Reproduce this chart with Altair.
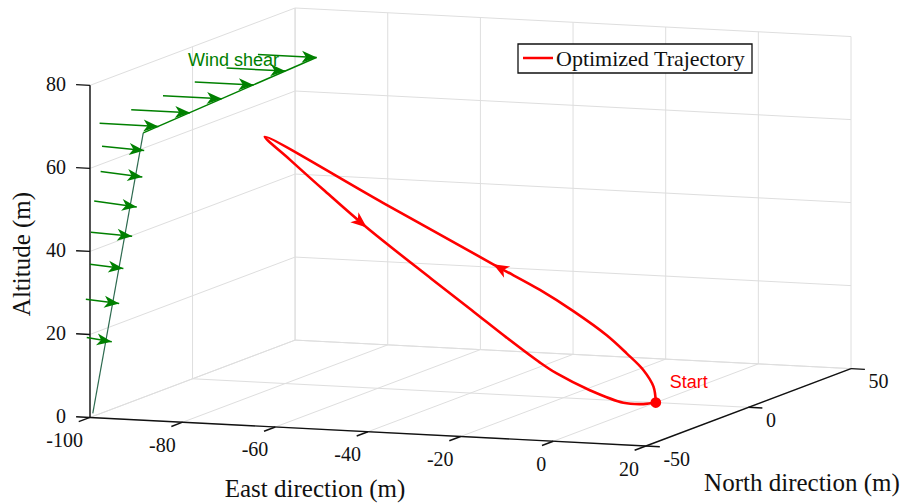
import math
import altair as alt
import pandas as pd

# ---------------------------------------------------------------- axes
X_LIM = [-100, 20]   # East direction (m)
Y_LIM = [-50, 50]    # North direction (m)
Z_LIM = [0, 80]      # Altitude (m)
x_ticks = [-100, -80, -60, -40, -20, 0, 20]
y_ticks = [-50, 0, 50]
z_ticks = [0, 20, 40, 60, 80]

# ---------------------------------------------------------------- trajectory (m)
traj_east = [0.0, -0.5, -2.7, -6.3, -10.6, -17.8, -25.0, -35.1, -58.8, -84.4,
             -79.0, -71.8, -62.4, -48.4, -39.4, -32.2, -25.0, -20.5, -12.7,
             -5.0, -1.2, 0.0]
traj_north = [0.0, 0.0, 0.0, 0.0, 0.0, 0.0, 0.0, 0.0, 0.0, 0.0,
              0.0, 0.0, 0.0, 0.0, 0.0, 0.0, 0.0, -2.0, -3.5,
              -4.5, -3.4, 0.0]
traj_alt = [0.0, 3.8, 7.7, 11.5, 15.6, 21.0, 25.7, 31.3, 44.7, 59.2,
            54.0, 47.2, 38.6, 27.0, 19.7, 13.8, 8.2, 6.2, 2.9,
            0.5, 0.2, 0.0]
traj_arrow_idx = [7, 12]
start_point = [0.0, 0.0, 0.0]
start_label_pos = [3.0, 0.0, 5.0]

# ---------------------------------------------------------------- wind shear arrows
wind_tail_east = [-100.7, -100.9, -100.0, -99.8, -99.1, -97.7, -97.4,
                  -101.2, -101.2, -101.2, -101.2, -101.2, -101.2]
wind_tail_north = [-50, -50, -50, -50, -50, -50, -50,
                   -42.6, -27.2, -11.7, 3.8, 19.3, 34.6]
wind_tail_alt = [19.2, 28.4, 36.9, 44.6, 52.2, 59.4, 65.5,
                 69.4, 69.8, 70.3, 70.7, 71.2, 71.6]
wind_tip_east = [-95.3, -93.7, -92.8, -90.9, -89.9, -88.7, -88.3,
                 -88.5, -88.5, -88.5, -88.5, -88.5, -88.5]
wind_tip_north = [-50, -50, -50, -50, -50, -50, -50,
                  -42.6, -27.2, -11.7, 3.8, 19.3, 34.6]
wind_tip_alt = [18.5, 27.8, 36.3, 44.2, 51.3, 58.6, 65.0,
                69.4, 69.8, 70.3, 70.7, 71.2, 71.6]
profile_east = [-99.4, -88.5, -88.6]
profile_north = [-50, -50, 34.6]
profile_alt = [1.0, 69.2, 71.6]
wind_label_pos = [-101.0, 0.0, 76.5]

# ---------------------------------------------------------------- view
AZ, EL, BOX_Z = 20.25, 8.0, 0.566
W, H = 761, 438
PAD = {"left": 90, "top": 8, "right": 62, "bottom": 58}
ca, sa = math.cos(math.radians(AZ)), math.sin(math.radians(AZ))
ce, se = math.cos(math.radians(EL)), math.sin(math.radians(EL))


def project(X, Y, Z):
    xn = (X - X_LIM[0]) / (X_LIM[1] - X_LIM[0])
    yn = (Y - Y_LIM[0]) / (Y_LIM[1] - Y_LIM[0])
    zn = (Z - Z_LIM[0]) / (Z_LIM[1] - Z_LIM[0]) * BOX_Z
    u = ca * xn + sa * yn
    v = -sa * se * xn + ca * se * yn + ce * zn
    return u, v


XS = alt.Scale(domain=[0.0, ca + sa], nice=False, zero=False)
YS = alt.Scale(domain=[-sa * se, ca * se + ce * BOX_Z], nice=False, zero=False)


def xenc():
    return alt.X("u:Q", scale=XS, axis=None)


def yenc():
    return alt.Y("v:Q", scale=YS, axis=None)


def seg_chart(segs, **mark_kw):
    rows = []
    for p, q in segs:
        u, v = project(*p)
        u2, v2 = project(*q)
        rows.append({"u": u, "v": v, "u2": u2, "v2": v2})
    return alt.Chart(pd.DataFrame(rows)).mark_rule(**mark_kw).encode(
        x=xenc(), y=yenc(), x2="u2:Q", y2="v2:Q")


def heading(p, q):
    u1, v1 = project(*p)
    u2, v2 = project(*q)
    return math.degrees(math.atan2(u2 - u1, v2 - v1)) % 360


# stealth arrowhead, tip at the symbol origin, pointing up before rotation
ARROW = "M0,0 L0.8,2 L0,1.45 L-0.8,2 Z"

# ---------------------------------------------------------------- grid on the three back planes
grid = []
for x in x_ticks:
    grid.append(((x, Y_LIM[0], 0), (x, Y_LIM[1], 0)))
    grid.append(((x, Y_LIM[1], Z_LIM[0]), (x, Y_LIM[1], Z_LIM[1])))
for y in y_ticks:
    grid.append(((X_LIM[0], y, 0), (X_LIM[1], y, 0)))
    grid.append(((X_LIM[0], y, Z_LIM[0]), (X_LIM[0], y, Z_LIM[1])))
for z in z_ticks:
    grid.append(((X_LIM[0], Y_LIM[1], z), (X_LIM[1], Y_LIM[1], z)))
    grid.append(((X_LIM[0], Y_LIM[0], z), (X_LIM[0], Y_LIM[1], z)))
grid_layer = seg_chart(grid, color="#dedede", strokeWidth=1)

# ---------------------------------------------------------------- axis lines and ticks
axis_segs = [((X_LIM[0], Y_LIM[0], Z_LIM[0]), (X_LIM[0], Y_LIM[0], Z_LIM[1])),
             ((X_LIM[0], Y_LIM[0], Z_LIM[0]), (X_LIM[1], Y_LIM[0], Z_LIM[0])),
             ((X_LIM[1], Y_LIM[0], Z_LIM[0]), (X_LIM[1], Y_LIM[1], Z_LIM[0]))]
for z in z_ticks:
    axis_segs.append(((X_LIM[0], Y_LIM[0], z), (X_LIM[0] - 3.0, Y_LIM[0], z)))
for x in x_ticks:
    axis_segs.append(((x, Y_LIM[0], 0), (x, Y_LIM[0] - 5.5, 0)))
for y in y_ticks:
    axis_segs.append(((X_LIM[1], y, 0), (X_LIM[1] + 3.0, y, 0)))
axis_layer = seg_chart(axis_segs, color="#111111", strokeWidth=1.4)


def label_chart(points, labels, **mark_kw):
    rows = []
    for p, t in zip(points, labels):
        u, v = project(*p)
        rows.append({"u": u, "v": v, "t": t})
    return alt.Chart(pd.DataFrame(rows)).mark_text(**mark_kw).encode(
        x=xenc(), y=yenc(), text="t:N")


TICK_FONT = dict(font="Liberation Serif", fontSize=20, color="#111111", baseline="middle")
z_labels = label_chart([(X_LIM[0], Y_LIM[0], z) for z in z_ticks], [str(z) for z in z_ticks],
                       align="right", dx=-24, **TICK_FONT)
x_labels = label_chart([(x, Y_LIM[0], 0) for x in x_ticks], [str(x) for x in x_ticks],
                       align="right", dx=-7, dy=23.5, **TICK_FONT)
y_labels = label_chart([(X_LIM[1], y, 0) for y in y_ticks], [str(y) for y in y_ticks],
                       align="left", dx=17.5, dy=13.5, **TICK_FONT)

one = pd.DataFrame({"k": [0]})
TITLE_FONT = dict(font="Liberation Serif", fontSize=25, color="#111111")
east_title = alt.Chart(one).mark_text(align="center", baseline="alphabetic", **TITLE_FONT).encode(
    x=alt.value(315 - PAD["left"]), y=alt.value(497 - PAD["top"]), text=alt.value("East direction (m)"))
north_title = alt.Chart(one).mark_text(align="center", baseline="alphabetic", **TITLE_FONT).encode(
    x=alt.value(802 - PAD["left"]), y=alt.value(491 - PAD["top"]), text=alt.value("North direction (m)"))
alt_title = alt.Chart(one).mark_text(align="center", baseline="middle", angle=270, **TITLE_FONT).encode(
    x=alt.value(22 - PAD["left"]), y=alt.value(254 - PAD["top"]), text=alt.value("Altitude (m)"))

# ---------------------------------------------------------------- wind shear
GREEN = "#008000"
wind_tails = list(zip(wind_tail_east, wind_tail_north, wind_tail_alt))
wind_tips = list(zip(wind_tip_east, wind_tip_north, wind_tip_alt))
profile = list(zip(profile_east, profile_north, profile_alt))
profile_low = seg_chart([(profile[0], profile[1])], color="#2d6a4f", strokeWidth=1.2)
profile_high = seg_chart([(profile[1], profile[2])], color=GREEN, strokeWidth=1.5)
wind_shafts = seg_chart(list(zip(wind_tails, wind_tips)), color=GREEN, strokeWidth=1.5)

heads = []
for p, q in zip(wind_tails, wind_tips):
    u, v = project(*q)
    heads.append({"u": u, "v": v, "ang": heading(p, q)})
wind_heads = alt.Chart(pd.DataFrame(heads)).mark_point(
    shape=ARROW, filled=True, color=GREEN, opacity=1, size=225).encode(
    x=xenc(), y=yenc(), angle=alt.Angle("ang:Q", scale=None))

wind_text = label_chart([tuple(wind_label_pos)], ["Wind shear"], align="left", baseline="middle",
                        font="Liberation Sans", fontSize=18, color=GREEN)

# ---------------------------------------------------------------- trajectory
RED = "#ff0000"
traj = list(zip(traj_east, traj_north, traj_alt))
traj_rows = []
for i, p in enumerate(traj):
    u, v = project(*p)
    traj_rows.append({"u": u, "v": v, "i": i})
traj_line = alt.Chart(pd.DataFrame(traj_rows)).mark_line(
    color=RED, strokeWidth=2.6, interpolate="catmull-rom").encode(
    x=xenc(), y=yenc(), order="i:Q")

arrow_rows = []
for i in traj_arrow_idx:
    u, v = project(*traj[i])
    arrow_rows.append({"u": u, "v": v, "ang": heading(traj[i - 1], traj[i + 1])})
traj_heads = alt.Chart(pd.DataFrame(arrow_rows)).mark_point(
    shape=ARROW, filled=True, color=RED, opacity=1, size=256).encode(
    x=xenc(), y=yenc(), angle=alt.Angle("ang:Q", scale=None))

su, sv = project(*start_point)
start_dot = alt.Chart(pd.DataFrame({"u": [su], "v": [sv]})).mark_point(
    shape="circle", filled=True, color=RED, opacity=1, size=115).encode(x=xenc(), y=yenc())
start_text = label_chart([tuple(start_label_pos)], ["Start"], align="left", baseline="middle",
                         font="Liberation Sans", fontSize=18, color=RED)

# ---------------------------------------------------------------- legend box
leg_box = alt.Chart(one).mark_rect(fill="white", stroke="#111111", strokeWidth=1.3).encode(
    x=alt.value(518 - PAD["left"]), x2=alt.value(752 - PAD["left"]),
    y=alt.value(44 - PAD["top"]), y2=alt.value(73 - PAD["top"]))
leg_line = alt.Chart(one).mark_rule(color=RED, strokeWidth=2.5).encode(
    x=alt.value(523 - PAD["left"]), x2=alt.value(553 - PAD["left"]),
    y=alt.value(58 - PAD["top"]))
leg_text = alt.Chart(one).mark_text(align="left", baseline="middle", font="Liberation Serif",
                                    fontSize=22, color="#111111").encode(
    x=alt.value(556 - PAD["left"]), y=alt.value(59 - PAD["top"]),
    text=alt.value("Optimized Trajectory"))

chart = alt.layer(
    grid_layer, axis_layer, z_labels, x_labels, y_labels,
    east_title, north_title, alt_title,
    profile_low, profile_high, wind_shafts, wind_heads, wind_text,
    traj_line, traj_heads, start_dot, start_text,
    leg_box, leg_line, leg_text,
).properties(
    width=W, height=H, padding=PAD,
    autosize=alt.AutoSizeParams(type="none"),
).configure_view(stroke=None)

chart.save("out.html", embed_options={"renderer": "svg", "actions": False})
